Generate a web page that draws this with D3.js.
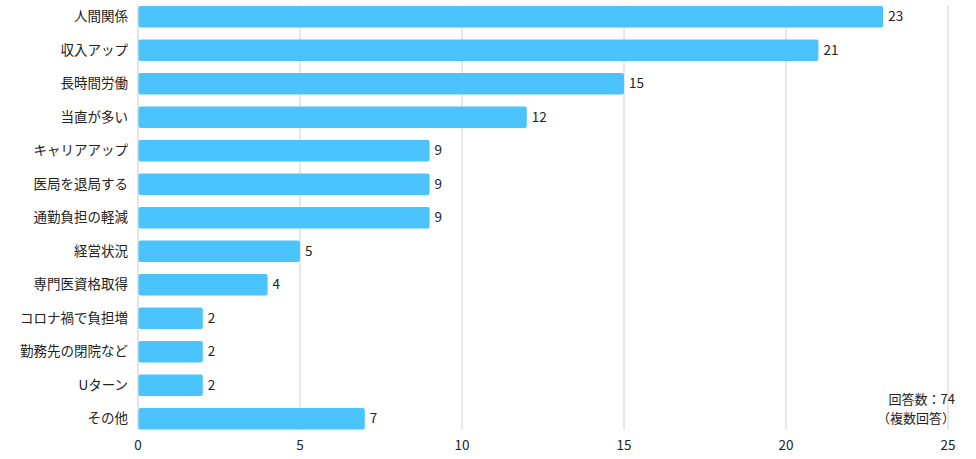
<!DOCTYPE html>
<html>
<head>
<meta charset="utf-8">
<script src="https://cdn.jsdelivr.net/npm/d3@7"></script>
<style>
  body { margin: 0; background: #fff; }
  text { font-family: "Noto Sans CJK JP", "Noto Sans", sans-serif; fill: #222; }
</style>
</head>
<body>
<svg id="chart" width="976" height="459"></svg>
<script>
// categories + counts
const categories = ["人間関係", "収入アップ", "長時間労働", "当直が多い", "キャリアアップ", "医局を退局する",
  "通勤負担の軽減", "経営状況", "専門医資格取得", "コロナ禍で負担増", "勤務先の閉院など", "Uターン", "その他"]
const counts = [23, 21, 15, 12, 9, 9, 9, 5, 4, 2, 2, 2, 7]
const xTicks = [0, 5, 10, 15, 20, 25]
const noteLines = ["回答数：74", "（複数回答）"]

const svg = d3.select("#chart")
const left = 138, right = 948

const x = d3.scaleLinear().domain([0, 25]).range([left, right])
const y = d3.scaleBand().domain(categories).range([0, 435.5]).paddingInner(0.36).paddingOuter(0.18)

// grid
svg.append("g")
  .selectAll("line")
  .data(xTicks.slice(1))
  .join("line")
  .attr("x1", d => x(d)).attr("x2", d => x(d))
  .attr("y1", 5).attr("y2", 430)
  .attr("stroke", "#d0d0d0").attr("stroke-width", 1)

svg.append("line")
  .attr("x1", left).attr("x2", left)
  .attr("y1", 5).attr("y2", 430)
  .attr("stroke", "#c8c8c8")

// bars
svg.append("g")
  .selectAll("rect")
  .data(counts)
  .join("rect")
  .attr("x", x(0) + 0.5)
  .attr("y", (d, i) => y(categories[i]))
  .attr("width", d => x(d) - x(0) - 0.5)
  .attr("height", y.bandwidth())
  .attr("rx", 2)
  .attr("fill", "#4bc4fe")

// value labels
svg.append("g")
  .selectAll("text")
  .data(counts)
  .join("text")
  .attr("x", d => x(d) + 5)
  .attr("y", (d, i) => y(categories[i]) + y.bandwidth() / 2)
  .attr("dy", "0.35em")
  .attr("font-size", 13.5)
  .text(d => d)

// category labels
svg.append("g")
  .selectAll("text")
  .data(categories)
  .join("text")
  .attr("x", left - 10)
  .attr("y", d => y(d) + y.bandwidth() / 2)
  .attr("dy", "0.35em")
  .attr("text-anchor", "end")
  .attr("font-size", 13.5)
  .text(d => d)

// x tick labels
svg.append("g")
  .selectAll("text")
  .data(xTicks)
  .join("text")
  .attr("x", d => x(d))
  .attr("y", 445)
  .attr("dy", "0.35em")
  .attr("text-anchor", "middle")
  .attr("font-size", 13.5)
  .text(d => d)

// note
svg.append("g")
  .selectAll("text")
  .data(noteLines)
  .join("text")
  .attr("x", 955)
  .attr("y", (d, i) => 399.5 + i * 18.5)
  .attr("dy", "0.35em")
  .attr("text-anchor", "end")
  .attr("font-size", 13)
  .text(d => d)
</script>
</body>
</html>
